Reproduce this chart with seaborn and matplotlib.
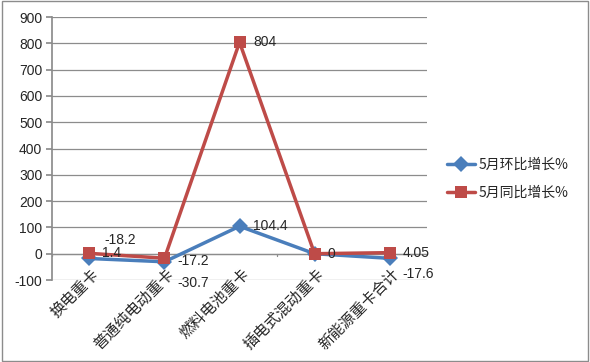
import matplotlib
matplotlib.use("Agg")
import matplotlib.pyplot as plt
import seaborn as sns
import pandas as pd
from matplotlib.patches import Rectangle

categories = ["换电重卡", "普通纯电动重卡", "燃料电池重卡", "插电式混动重卡", "新能源重卡合计"]
mom_values = [-18.2, -30.7, 104.4, 0, -17.6]
yoy_values = [1.4, -17.2, 804, 0, 4.05]
series_names = ["5月环比增长%", "5月同比增长%"]
yticks = [-100, 0, 100, 200, 300, 400, 500, 600, 700, 800, 900]

sns.set_theme(style="white")
plt.rcParams['font.family'] = ['Noto Sans CJK SC', 'DejaVu Sans']

BLUE = "#4A7EBB"
RED = "#BE4B48"

df = pd.DataFrame({
    "cat": list(range(len(categories))) * 2,
    "val": mom_values + yoy_values,
    "series": [series_names[0]] * len(categories) + [series_names[1]] * len(categories),
})

fig = plt.figure(figsize=(5.9, 3.62), dpi=100)
ax = fig.add_axes([0.088, 0.2265, 0.636, 0.7265])

sns.lineplot(data=df, x="cat", y="val", hue="series", style="series",
             palette=[BLUE, RED], markers=["D", "s"], dashes=False,
             linewidth=2.5, markersize=8, markeredgewidth=0, ax=ax, legend=True)

ax.set_xlim(-0.5, len(categories) - 0.5)
ax.set_ylim(-100, 900)
ax.set_yticks(yticks)
ax.set_yticklabels([str(t) for t in yticks], fontsize=10, family=['Liberation Sans', 'DejaVu Sans'])
ax.yaxis.grid(True, color="#8C8C8C", linewidth=0.9)
ax.set_axisbelow(True)
for s in ["top", "right", "bottom"]:
    ax.spines[s].set_visible(False)
ax.spines["left"].set_color("#8C8C8C")
ax.tick_params(axis="y", length=4, color="#8C8C8C", pad=3, left=True, direction="out")

# category labels
ax.set_xticks(range(len(categories)))
ax.set_xticklabels([])
ax.tick_params(axis="x", length=0)
ax.set_xlabel("")
ax.set_ylabel("")
for i, c in enumerate(categories):
    ax.annotate(c, xy=(i, -46), xycoords="data", xytext=(1, 0), textcoords="offset points",
                rotation=45, ha="right", va="top", rotation_mode="anchor", fontsize=11,
                annotation_clip=False)

# zero axis line with ticks between categories
ax.axhline(0, color="#8C8C8C", linewidth=0.9, zorder=1)
for i in range(len(categories) + 1):
    ax.plot([i - 0.5, i - 0.5], [0, -8], color="#8C8C8C", linewidth=0.9, zorder=1)

# data labels
lab_font = dict(fontsize=10, family=['Liberation Sans', 'DejaVu Sans'], va="center", ha="left")
mom_off = [(11, 13), (9, -15), (10, 0), None, (9, -11)]
yoy_off = [(9, 0), (9, -2), (10, 0), (9, 0), (9, 0)]
for i, v in enumerate(mom_values):
    if mom_off[i] is not None:
        ax.annotate(f"{v:g}", xy=(i, v), xytext=mom_off[i], textcoords="offset points", **lab_font)
for i, v in enumerate(yoy_values):
    ax.annotate(f"{v:g}", xy=(i, v), xytext=yoy_off[i], textcoords="offset points", **lab_font)

leg = ax.legend(loc="center left", bbox_to_anchor=(1.02, 0.384), frameon=False,
                fontsize=10, handlelength=2.0, labelspacing=1.0, handletextpad=0.3)
for h in leg.legend_handles:
    h.set_linewidth(2.5)

fig.patches.append(Rectangle((0.003, 0.004), 0.994, 0.992, transform=fig.transFigure,
                             fill=False, edgecolor="#8C8C8C", linewidth=1))

fig.savefig("out.png", dpi=100)
